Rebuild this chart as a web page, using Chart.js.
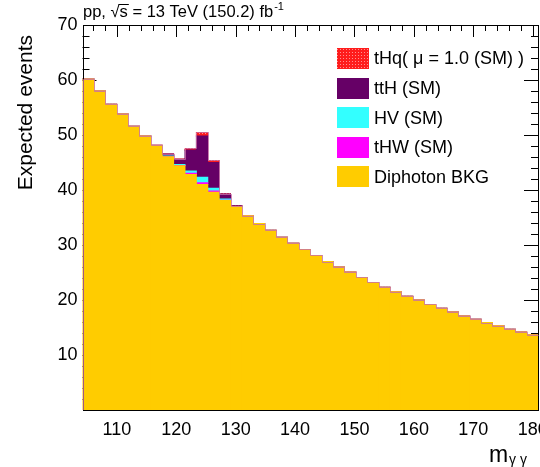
<!DOCTYPE html>
<html>
<head>
<meta charset="utf-8">
<script src="https://cdn.jsdelivr.net/npm/chart.js@4.4.1/dist/chart.umd.min.js"></script>
<style>
  html, body { margin:0; padding:0; background:#fff; }
  #wrap { width:540px; height:467px; position:relative; }
</style>
</head>
<body>
<div id="wrap"><canvas id="c"></canvas></div>
<script>
// --- datos: 40 bins entre ~104.2 y ~180.9 GeV ---
const xRange = [104.2, 180.9];
const xTickLabels = [110, 120, 130, 140, 150, 160, 170, 180];
const yTickLabels = [10, 20, 30, 40, 50, 60, 70];

// fondo (Diphoton BKG)
const bkg = [60.2, 58.0, 55.6, 53.8, 51.6, 49.8, 48.1, 46.05, 44.4, 42.8,
             41.0, 39.6, 38.1, 37.0, 35.3, 33.9, 32.7, 31.4, 30.3, 29.2,
             28.1, 27.0, 26.0, 25.1, 24.1, 23.2, 22.3, 21.5, 20.7, 20.0,
             19.2, 18.5, 17.8, 17.1, 16.5, 15.9, 15.3, 14.7, 14.2, 13.7];
// señales
const tHW = [0, 0, 0, 0, 0, 0, 0, 0, 0.05, 0.24,
             0.3, 0.24, 0.05, 0, 0, 0, 0, 0, 0, 0,
             0, 0, 0, 0, 0, 0, 0, 0, 0, 0,
             0, 0, 0, 0, 0, 0, 0, 0, 0, 0];
const HV  = [0, 0, 0, 0, 0, 0, 0, 0.12, 0.18, 0.42,
             1.0, 0.48, 0.22, 0.02, 0, 0, 0, 0, 0, 0,
             0, 0, 0, 0, 0, 0, 0, 0, 0, 0,
             0, 0, 0, 0, 0, 0, 0, 0, 0, 0];
const ttH = [0, 0, 0, 0, 0, 0, 0.02, 0.36, 0.95, 3.8,
             7.5, 4.7, 0.9, 0.1, 0, 0, 0, 0, 0, 0,
             0, 0, 0, 0, 0, 0, 0, 0, 0, 0,
             0, 0, 0, 0, 0, 0, 0, 0, 0, 0];
const tHq = [0, 0, 0, 0, 0, 0, 0, 0.03, 0.05, 0.3,
             0.67, 0.36, 0.06, 0, 0, 0, 0, 0, 0, 0,
             0, 0, 0, 0, 0, 0, 0, 0, 0, 0,
             0, 0, 0, 0, 0, 0, 0, 0, 0, 0];

const binLabels = bkg.map((_, i) => 'bin' + (i + 1));
const fontFam = '"Liberation Sans", Arial, Helvetica, sans-serif';

// patron de puntos rojos (como el relleno de ROOT)
const canvas = document.getElementById('c');
function makeDots(ctx){
  const p = document.createElement('canvas');
  p.width = 3; p.height = 3;
  const g = p.getContext('2d');
  g.fillStyle = '#ff1c1c'; g.fillRect(0, 0, 3, 3);
  g.fillStyle = '#ff9090'; g.fillRect(1, 1, 1, 1);
  return ctx.createPattern(p, 'repeat');
}
const redDots = makeDots(canvas.getContext('2d'));

// -------------------- marco y ticks estilo ROOT --------------------
const rootFrame = {
  id: 'rootFrame',
  beforeDatasetsDraw(chart){
    const {ctx, chartArea: a, scales} = chart;
    const xs = scales.xm, ys = scales.y;
    ctx.save();
    ctx.strokeStyle = '#000';
    ctx.lineWidth = 1;
    ctx.beginPath();
    for (let v = 106; v <= 180; v += 2){
      const px = Math.round(xs.getPixelForValue(v)) + 0.5;
      const L = v % 10 === 0 ? 12 : 6;
      ctx.moveTo(px, a.top); ctx.lineTo(px, a.top + L);
    }
    for (let v = 2; v <= 68; v += 2){
      const py = Math.round(ys.getPixelForValue(v)) + 0.5;
      const L = v % 10 === 0 ? 14 : 7;
      ctx.moveTo(a.left, py); ctx.lineTo(a.left + L, py);
      ctx.moveTo(a.right, py); ctx.lineTo(a.right - L, py);
    }
    ctx.stroke();
    ctx.restore();
  },
  afterDatasetsDraw(chart){
    const {ctx, chartArea: a} = chart;
    ctx.save();
    // marco
    ctx.strokeStyle = '#000';
    ctx.lineWidth = 1;
    ctx.strokeRect(Math.round(a.left) + 0.5, Math.round(a.top) + 0.5,
                   Math.round(a.right - a.left) - 1, Math.round(a.bottom - a.top));
    // contorno del stack (usa las barras del ultimo dataset)
    const meta = chart.getDatasetMeta(chart.data.datasets.length - 1);
    ctx.strokeStyle = 'rgba(200,110,165,0.8)';
    ctx.beginPath();
    meta.data.forEach((bar, i) => {
      const l = bar.x - bar.width / 2, r = bar.x + bar.width / 2;
      const y = Math.round(bar.y) + 0.5;
      if (i === 0){ ctx.moveTo(Math.round(l) + 0.5, a.bottom); }
      ctx.lineTo(Math.round(l) + 0.5, y);
      ctx.lineTo(Math.round(r) + 0.5, y);
    });
    ctx.stroke();
    ctx.restore();
  }
};

// -------------------- textos: titulo, ejes y leyenda --------------------
const annotations = {
  id: 'annotations',
  afterDraw(chart){
    const ctx = chart.ctx;
    ctx.save();
    ctx.fillStyle = '#000';
    ctx.textBaseline = 'alphabetic';
    ctx.textAlign = 'left';

    // titulo
    ctx.font = '16.5px ' + fontFam;
    let x = 83, y = 17;
    ctx.fillText('pp, ', x, y); x += ctx.measureText('pp, ').width;
    ctx.fillText('\u221A', x, y); x += ctx.measureText('\u221A').width;
    const ws = ctx.measureText('s').width;
    ctx.fillText('s', x, y);
    ctx.fillRect(x - 1, y - 13, ws + 2, 1);
    x += ws;
    const rest = ' = 13 TeV (150.2) fb';
    ctx.fillText(rest, x, y); x += ctx.measureText(rest).width;
    ctx.font = '11px ' + fontFam;
    ctx.fillText('-1', x + 1, y - 7);

    // titulo eje y
    ctx.save();
    ctx.translate(32, 35);
    ctx.rotate(-Math.PI / 2);
    ctx.font = '21px ' + fontFam;
    ctx.textAlign = 'right';
    ctx.fillText('Expected events', 0, 0);
    ctx.restore();

    // titulo eje x
    ctx.font = '23px ' + fontFam;
    ctx.fillText('m', 489, 462);
    ctx.font = '14px ' + fontFam;
    ctx.fillText('\u03B3 \u03B3', 509, 464);

    // leyenda (orden inverso del stack)
    const ds = chart.data.datasets.slice().reverse();
    ctx.font = '18px ' + fontFam;
    ctx.textBaseline = 'middle';
    ds.forEach((d, i) => {
      const cy = 58.5 + i * 29.6;
      ctx.fillStyle = d.backgroundColor;
      ctx.fillRect(337, Math.round(cy - 10.5), 32, 21);
      ctx.fillStyle = '#000';
      ctx.fillText(d.label, 374, cy + 1);
    });
    ctx.restore();
  }
};

new Chart(canvas, {
  type: 'bar',
  data: {
    labels: binLabels,
    datasets: [
      {label: 'Diphoton BKG', data: bkg, backgroundColor: '#ffcc00', xAxisID: 'x', yAxisID: 'y'},
      {label: 'tHW (SM)', data: tHW, backgroundColor: '#ff00ff', xAxisID: 'x', yAxisID: 'y'},
      {label: 'HV (SM)', data: HV, backgroundColor: '#33ffff', xAxisID: 'x', yAxisID: 'y'},
      {label: 'ttH (SM)', data: ttH, backgroundColor: '#660066', xAxisID: 'x', yAxisID: 'y'},
      {label: 'tHq( \u03BC = 1.0 (SM) )', data: tHq, backgroundColor: redDots, xAxisID: 'x', yAxisID: 'y'}
    ]
  },
  options: {
    responsive: true,
    maintainAspectRatio: false,
    animation: false,
    layout: {padding: {left: 0, right: 2, top: 25, bottom: 0}},
    datasets: {bar: {barPercentage: 1, categoryPercentage: 1, borderWidth: 0, inflateAmount: 0.5}},
    plugins: {legend: {display: false}, tooltip: {enabled: false}},
    scales: {
      x: {stacked: true, display: false},
      xm: {
        type: 'linear', position: 'bottom', min: xRange[0], max: xRange[1], bounds: 'data',
        offset: false,
        grid: {display: false, drawTicks: false, offset: false},
        border: {display: false},
        ticks: {color: '#000', font: {size: 18, family: fontFam}, padding: 9,
                maxRotation: 0, minRotation: 0, autoSkip: false},
        afterBuildTicks: s => {
          s.ticks = xTickLabels.map(v => ({value: v}));
          s.min = xRange[0]; s.max = xRange[1];
        },
        afterFit: s => { s.height = 57; s.paddingLeft = 0; s.paddingRight = 0; }
      },
      y: {
        stacked: true, min: 0, max: 70,
        grid: {display: false, drawTicks: false},
        border: {display: false},
        ticks: {color: '#000', font: {size: 18, family: fontFam}, padding: 5},
        afterBuildTicks: s => { s.ticks = yTickLabels.map(v => ({value: v})); },
        afterFit: s => { s.width = 82.5; s.paddingTop = 0; s.paddingBottom = 0; }
      }
    }
  },
  plugins: [rootFrame, annotations]
});
</script>
</body>
</html>
